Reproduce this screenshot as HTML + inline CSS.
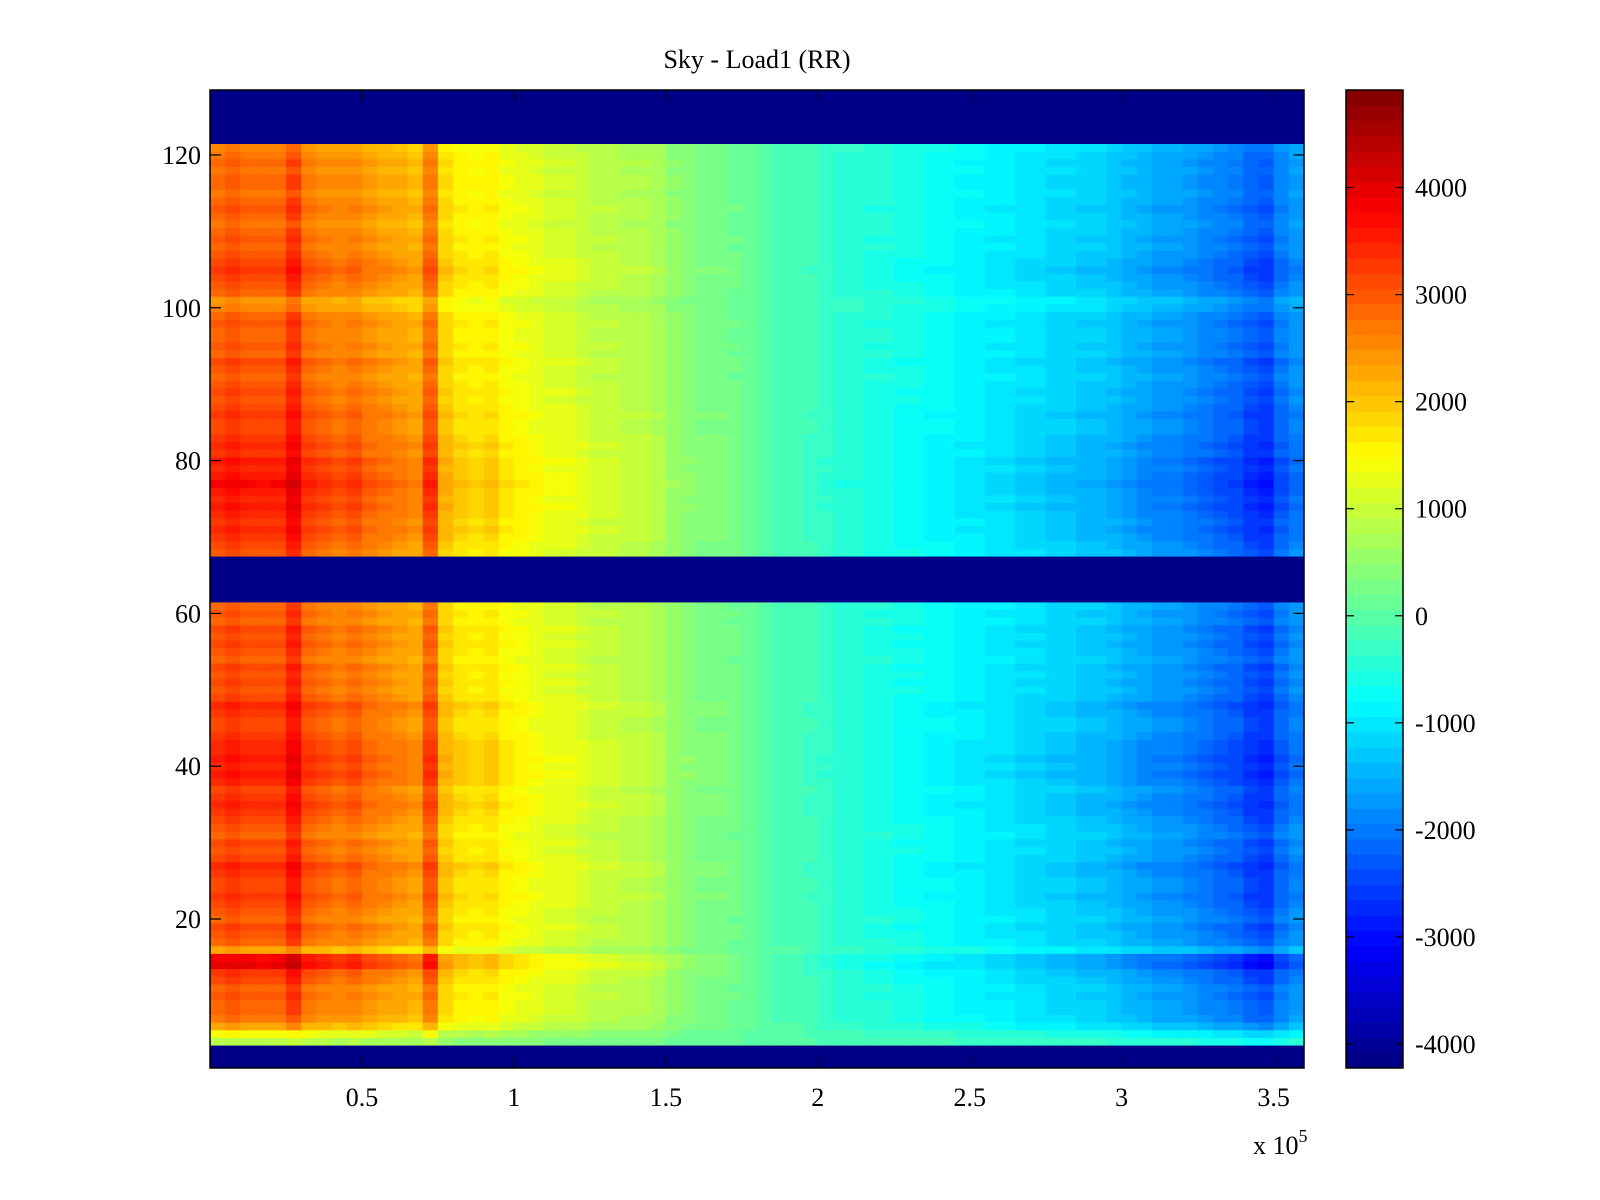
<!DOCTYPE html>
<html><head><meta charset="utf-8"><style>
html,body{margin:0;padding:0;background:#fff;}
svg{display:block;font-family:"Liberation Serif",serif;}
</style></head><body>
<svg id="chart" width="1600" height="1200" viewBox="0 0 1600 1200" xmlns="http://www.w3.org/2000/svg">
<rect x="0" y="0" width="1600" height="1200" fill="#fff"/>
<text x="757" y="68" font-size="26" text-anchor="middle">Sky - Load1 (RR)</text>
<g id="cells"></g>
<g id="cbar"></g>
<g id="axes"></g>
<text x="1253" y="1154" font-size="26">x 10<tspan dy="-12" font-size="18">5</tspan></text>
</svg>
<script>
// ---- data ----
const colStarts = [0,5000,10000,15000,20000,25000,30000,35000,40000,45000,50000,55000,60000,65000,70000,75000,80000,85000,90000,95000,100000,105000,110000,115000,120000,125000,130000,135000,140000,145000,150000,155000,160000,165000,170000,175000,180000,185000,190000,195000,200000,205000,210000,215000,220000,225000,230000,235000,240000,245000,250000,255000,260000,265000,270000,275000,280000,285000,290000,295000,300000,305000,310000,315000,320000,325000,330000,335000,340000,345000,350000,355000];
const colMeans = [2900,3000,2900,2800,2900,3200,2700,2600,2500,2600,2400,2300,2200,2100,2700,
1800,1600,1500,1600,1400,
1300,1200,1100,1100,1000,900,900,800,800,700,
500,400,300,300,200,100,0,-100,-100,-200,
-300,-400,-400,-500,-500,-600,-600,-700,-700,-800,
-800,-900,-900,-1000,-1000,-1100,-1100,-1200,-1200,-1300,
-1400,-1500,-1600,-1600,-1700,-1800,-1900,-2000,-2200,-2300,-1900,-1700];
const rowGain = [1,1,1,0.3,0.5,0.8,0.95,1,1,1.05,1,1.1,1.15,1.35,1.3,0.8,1.0,1.05,1.1,1.0,
1.05,1.1,1.15,1.1,1.1,1.15,1.2,1.1,1.05,1.1,1.0,1.05,1.1,1.15,1.2,1.15,1.1,1.2,1.25,1.2,
1.25,1.2,1.2,1.15,1.1,1.1,1.15,1.2,1.1,1.05,1.1,1.05,1.1,1.0,1.05,1.1,1.05,1.1,1.0,1.05,1.0,
1,1,1,1,1,1,
1.05,1.1,1.15,1.2,1.15,1.2,1.25,1.2,1.25,1.3,1.25,1.2,1.25,
1.15,1.2,1.15,1.1,1.1,1.15,1.1,1.05,1.1,1.05,1.0,1.05,1.1,1.0,1.05,1.0,1.0,1.05,1.0,0.9,
0.85,1.0,1.05,1.1,1.15,1.1,1.05,1.0,1.05,1.0,0.95,1.0,1.05,1.0,0.95,1.0,1.0,0.95,1.0,0.95,0.9,
1,1,1,1,1,1,1];
const maskedRows = [1,2,3,62,63,64,65,66,67,122,123,124,125,126,127,128];
const xTicks = [50000,100000,150000,200000,250000,300000,350000];
const xTickLabels = ["0.5","1","1.5","2","2.5","3","3.5"];
const yTicks = [20,40,60,80,100,120];
const cTicks = [-4000,-3000,-2000,-1000,0,1000,2000,3000,4000];
const clim = [-4224,4911];
const xlim = [0,360000];
const ylim = [0.5,128.5];

// ---- layout ----
const L=210,R=1304,T=90,B=1068;
const CBL=1346,CBR=1403;
const NS="http://www.w3.org/2000/svg";
const xs=v=>L+(v-xlim[0])/(xlim[1]-xlim[0])*(R-L);
const ys=v=>T+(ylim[1]-v)/(ylim[1]-ylim[0])*(B-T);
const cs=v=>T+(clim[1]-v)/(clim[1]-clim[0])*(B-T);
function jet(t){
  t=Math.max(0,Math.min(1,t));
  const i=Math.min(63,Math.floor(t*64)); const u=(i+0.5)/64;
  const f=x=>Math.round(255*Math.max(0,Math.min(1,x)));
  return `rgb(${f(1.5-Math.abs(4*u-3))},${f(1.5-Math.abs(4*u-2))},${f(1.5-Math.abs(4*u-1))})`;
}
const colorOf=v=>jet((v-clim[0])/(clim[1]-clim[0]));
function mk(tag,attrs,parent){const e=document.createElementNS(NS,tag);for(const k in attrs)e.setAttribute(k,attrs[k]);parent.appendChild(e);return e;}

const cells=document.getElementById('cells');
for(let r=1;r<=128;r++){
  for(let c=0;c<colStarts.length;c++){
    const x0=colStarts[c], x1=(c+1<colStarts.length?colStarts[c+1]:xlim[1]);
    const v = maskedRows.includes(r) ? clim[0] : colMeans[c]*rowGain[r-1];
    const e=mk('rect',{x:xs(x0),y:ys(r+0.5),width:xs(x1)-xs(x0)+0.5,height:ys(r-0.5)-ys(r+0.5)+0.5,fill:colorOf(v)},cells);
    
    
  }
}
// colorbar
const cb=document.getElementById('cbar');
for(let i=0;i<64;i++){
  const v0=clim[0]+i*(clim[1]-clim[0])/64, v1=clim[0]+(i+1)*(clim[1]-clim[0])/64;
  const e=mk('rect',{x:CBL,y:cs(v1),width:CBR-CBL,height:cs(v0)-cs(v1)+0.5,fill:colorOf((v0+v1)/2)},cb);
  
  
}
mk('rect',{x:CBL,y:T,width:CBR-CBL,height:B-T,fill:'none',stroke:'#000','stroke-width':1.5},cb);
cTicks.forEach(t=>{
  const y=cs(t);
  mk('line',{x1:CBL,x2:CBL+8,y1:y,y2:y,stroke:'#000','stroke-width':1.2},cb);
  mk('line',{x1:CBR-8,x2:CBR,y1:y,y2:y,stroke:'#000','stroke-width':1.2},cb);
  const tx=mk('text',{x:1415,y:y+9,'font-size':26},cb);
  tx.textContent=String(t);
  
  
});
// axes
const ax=document.getElementById('axes');
mk('rect',{x:L,y:T,width:R-L,height:B-T,fill:'none',stroke:'#000','stroke-width':1.5},ax);
xTicks.forEach((t,i)=>{
  const x=xs(t);
  mk('line',{x1:x,x2:x,y1:B,y2:B-11,stroke:'#000','stroke-width':1.2},ax);
  mk('line',{x1:x,x2:x,y1:T,y2:T+11,stroke:'#000','stroke-width':1.2},ax);
  const tx=mk('text',{x:x,y:B+38,'font-size':26,'text-anchor':'middle'},ax);
  tx.textContent=xTickLabels[i];
  
  
});
yTicks.forEach(t=>{
  const y=ys(t);
  mk('line',{x1:L,x2:L+11,y1:y,y2:y,stroke:'#000','stroke-width':1.2},ax);
  mk('line',{x1:R-11,x2:R,y1:y,y2:y,stroke:'#000','stroke-width':1.2},ax);
  const tx=mk('text',{x:L-9,y:y+9,'font-size':26,'text-anchor':'end'},ax);
  tx.textContent=String(t);
  
  
});
</script>
</body></html>
